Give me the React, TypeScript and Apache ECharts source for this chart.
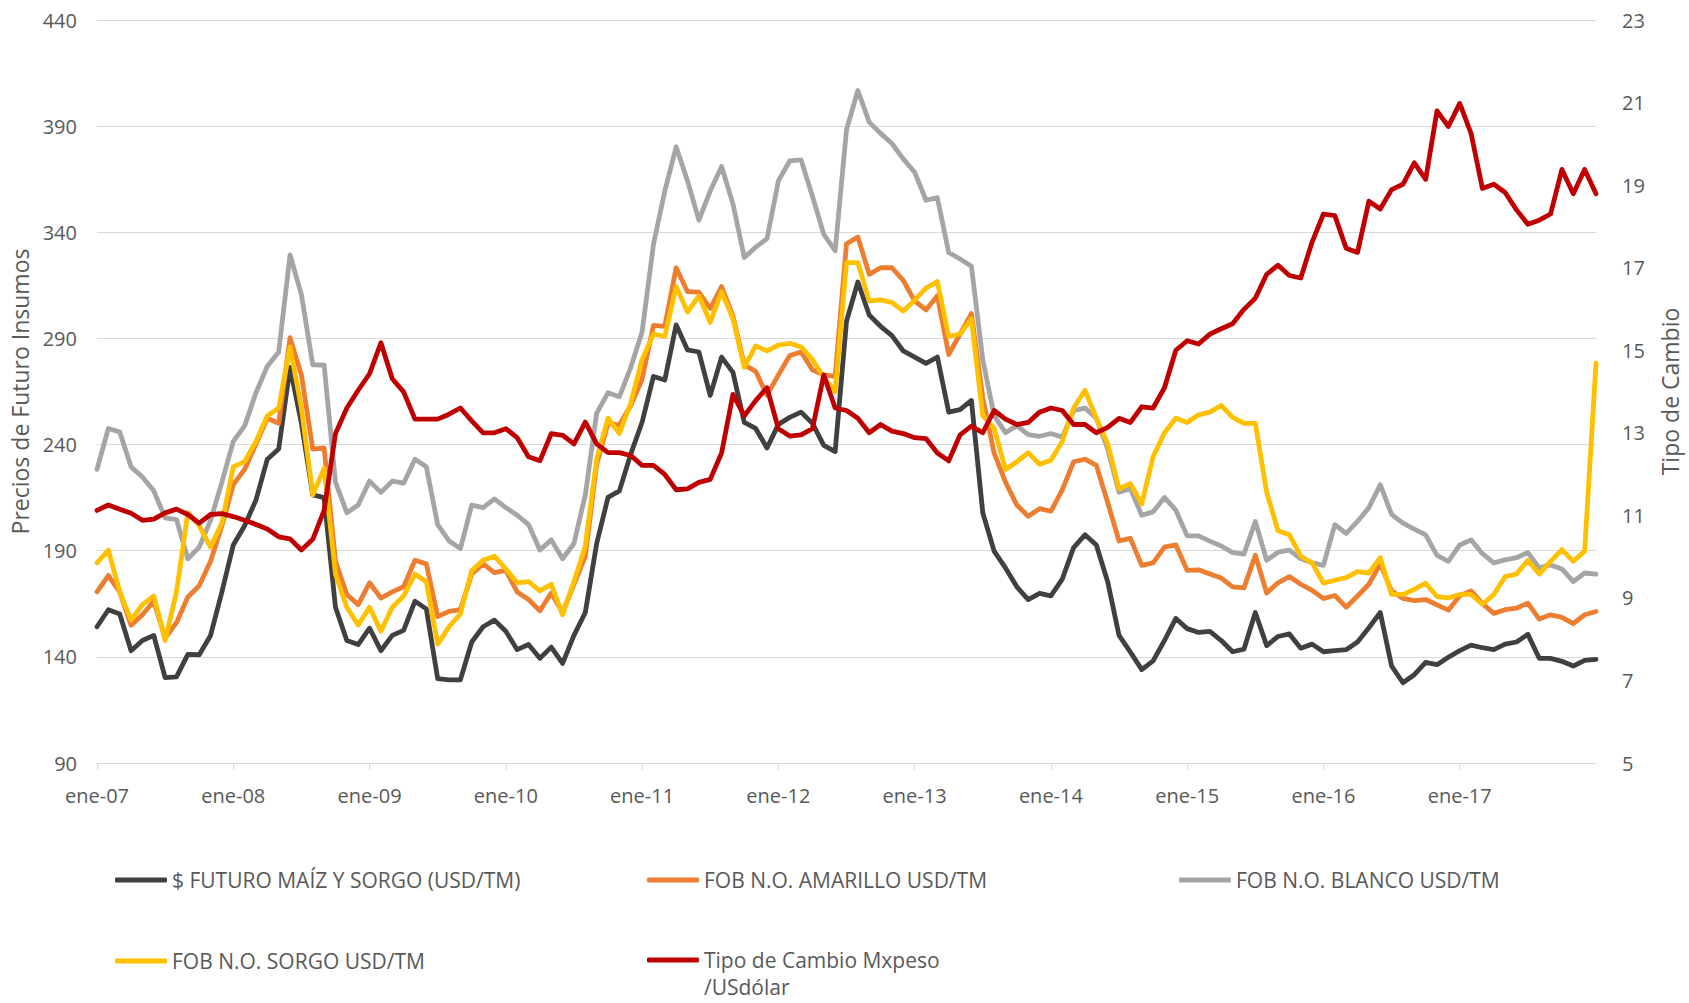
import React, { useEffect, useRef } from "react";
import * as echarts from "echarts";

const MONTHS = ["ene", "feb", "mar", "abr", "may", "jun", "jul", "ago", "sep", "oct", "nov", "dic"];
const YEARS = ["07", "08", "09", "10", "11", "12", "13", "14", "15", "16", "17", "18"];
const categories: string[] = [];
YEARS.forEach((y) => MONTHS.forEach((m) => categories.push(`${m}-${y}`)));
categories.length = 133;

const SERIES_NAMES = [
  "$ FUTURO MAÍZ Y SORGO (USD/TM)",
  "FOB N.O. AMARILLO USD/TM",
  "FOB N.O. BLANCO USD/TM",
  "FOB N.O. SORGO USD/TM",
  "Tipo de Cambio Mxpeso /USdólar",
];

const futuro = [
  154.2, 162.2, 160.2, 142.9, 147.7, 150.1, 130.2, 130.6, 141.2, 141.0, 150.1, 170.6,
  192.7, 201.8, 213.9, 233.1, 237.9, 276.4, 250.0, 216.3, 215.0, 163.4, 147.7, 145.8,
  153.5, 142.9, 150.1, 152.5, 166.2, 162.6, 129.7, 129.2, 129.2, 147.0, 154.2, 157.3,
  152.1, 143.4, 145.8, 139.3, 144.6, 136.9, 150.1, 160.9, 193.4, 215.1, 218.2, 235.5,
  250.5, 272.1, 270.4, 296.4, 284.6, 283.6, 263.2, 281.2, 274.0, 250.4, 247.6, 238.4,
  249.5, 252.8, 255.3, 250.0, 239.6, 236.7, 298.1, 316.6, 301.0, 295.7, 291.3, 284.1,
  281.2, 278.3, 281.2, 255.3, 256.5, 260.8, 207.9, 189.8, 181.9, 173.0, 167.0, 169.9,
  168.7, 176.6, 191.5, 197.5, 192.7, 175.4, 150.1, 142.2, 134.0, 138.1, 147.7, 158.1,
  153.3, 151.5, 152.0, 147.7, 142.4, 143.6, 160.9, 145.3, 149.6, 150.8, 144.1, 146.0,
  142.4, 142.9, 143.4, 147.0, 153.7, 160.9, 135.7, 127.8, 131.6, 137.4, 136.3, 139.8,
  142.9, 145.5, 144.3, 143.4, 146.0, 147.0, 150.6, 139.3, 139.3, 137.9, 135.7, 138.3,
  138.8,
];

const amarillo = [
  170.6, 178.3, 170.6, 154.9, 159.8, 166.2, 148.9, 156.1, 168.2, 173.5, 185.0, 201.8,
  221.1, 228.3, 240.3, 252.4, 250.0, 290.4, 272.8, 237.9, 238.4, 185.0, 169.4, 164.6,
  174.9, 167.7, 170.6, 173.0, 185.5, 183.8, 159.0, 161.4, 162.2, 179.0, 183.8, 179.7,
  180.7, 170.6, 167.0, 161.7, 170.1, 160.9, 174.2, 187.4, 230.7, 250.0, 249.2, 258.4,
  270.8, 296.1, 295.7, 323.3, 312.0, 311.8, 304.1, 314.4, 300.5, 277.6, 274.5, 263.2,
  272.8, 281.9, 283.6, 275.2, 272.8, 272.1, 334.6, 337.8, 320.2, 323.3, 323.3, 317.3,
  307.7, 303.4, 310.1, 282.4, 292.1, 301.7, 262.0, 236.0, 222.3, 211.5, 206.2, 209.8,
  208.6, 218.7, 231.9, 233.1, 230.2, 212.7, 194.6, 195.8, 183.1, 184.3, 191.7, 192.7,
  180.7, 181.0, 179.0, 177.1, 173.0, 172.5, 187.9, 170.1, 174.9, 177.8, 174.2, 171.3,
  167.5, 168.9, 163.4, 168.7, 174.2, 183.8, 171.1, 167.5, 166.5, 167.0, 164.5, 162.0,
  168.8, 171.1, 165.1, 160.5, 162.2, 162.9, 165.3, 157.8, 159.8, 158.6, 155.7, 159.8,
  161.4,
];

const blanco = [
  228.3, 247.6, 245.9, 229.5, 224.7, 218.2, 205.5, 204.7, 186.2, 191.7, 204.3, 222.3,
  241.5, 248.8, 264.4, 276.9, 283.6, 329.3, 310.6, 277.6, 277.4, 222.3, 207.9, 211.5,
  222.8, 217.5, 222.8, 221.8, 233.1, 229.5, 202.3, 194.6, 191.0, 211.5, 210.3, 214.4,
  210.3, 206.7, 202.3, 190.3, 195.1, 186.2, 193.4, 216.3, 254.8, 264.4, 262.5, 276.4,
  293.0, 334.2, 359.4, 380.3, 364.2, 345.7, 359.4, 371.0, 353.4, 328.1, 333.0, 337.0,
  364.2, 373.6, 374.1, 357.0, 339.0, 331.3, 388.3, 406.8, 391.9, 386.6, 381.8, 374.6,
  368.3, 355.1, 356.3, 330.5, 327.4, 324.0, 280.0, 253.6, 245.6, 248.8, 244.7, 243.9,
  245.2, 243.5, 256.0, 257.2, 252.4, 237.9, 217.5, 219.2, 206.7, 208.3, 215.1, 209.1,
  197.0, 197.0, 194.5, 192.2, 189.1, 188.4, 203.8, 185.5, 189.3, 190.3, 186.2, 184.3,
  183.1, 202.3, 198.2, 203.8, 210.3, 221.1, 207.1, 203.0, 200.2, 197.5, 187.8, 185.0,
  192.7, 195.1, 188.6, 184.3, 185.7, 186.7, 189.1, 181.9, 183.3, 181.4, 175.4, 179.5,
  179.0,
];

const sorgo = [
  184.3, 190.3, 170.6, 157.3, 164.6, 168.7, 147.7, 170.6, 207.9, 201.8, 191.7, 203.0,
  229.5, 232.0, 241.5, 253.6, 257.2, 286.0, 257.2, 216.3, 228.8, 179.0, 163.4, 155.0,
  163.4, 152.1, 163.4, 168.7, 179.0, 175.4, 146.0, 154.2, 160.2, 180.7, 185.5, 187.4,
  181.4, 174.9, 175.4, 171.1, 174.2, 159.8, 175.4, 192.2, 233.1, 252.4, 245.2, 259.6,
  280.0, 292.1, 290.9, 314.4, 302.4, 310.1, 297.6, 312.0, 299.3, 276.4, 286.5, 284.1,
  286.8, 287.7, 286.0, 280.0, 271.6, 264.9, 325.7, 325.7, 307.7, 308.2, 307.0, 302.9,
  308.0, 313.7, 316.8, 290.9, 292.1, 299.3, 253.6, 247.6, 228.3, 231.9, 236.2, 230.7,
  232.6, 241.5, 257.2, 265.6, 252.4, 240.3, 219.2, 221.6, 212.0, 234.3, 245.6, 252.4,
  250.4, 254.0, 255.3, 258.4, 252.8, 250.0, 250.0, 217.5, 199.4, 197.5, 187.4, 184.3,
  174.7, 176.1, 177.3, 180.2, 179.5, 186.7, 169.4, 169.4, 171.8, 174.7, 168.4, 167.8,
  169.4, 169.4, 164.8, 169.4, 177.8, 179.0, 185.5, 179.0, 185.0, 190.5, 185.0, 189.8,
  278.3,
];

const tipoCambio = [
  11.12, 11.25, 11.15, 11.05, 10.88, 10.91, 11.06, 11.15, 11.02, 10.81, 11.02, 11.04,
  10.97, 10.88, 10.78, 10.67, 10.48, 10.43, 10.16, 10.42, 11.12, 12.98, 13.6, 14.03,
  14.43, 15.18, 14.31, 13.99, 13.33, 13.33, 13.33, 13.45, 13.6, 13.29, 13.0, 13.0,
  13.1, 12.88, 12.42, 12.32, 12.98, 12.94, 12.73, 13.26, 12.73, 12.52, 12.52, 12.45,
  12.21, 12.21, 11.99, 11.62, 11.64, 11.8, 11.87, 12.51, 13.93, 13.41, 13.78, 14.09,
  13.1, 12.92, 12.95, 13.1, 14.4, 13.6, 13.54, 13.35, 13.0, 13.2, 13.04, 12.98,
  12.88, 12.86, 12.51, 12.32, 12.95, 13.16, 13.0, 13.54, 13.33, 13.2, 13.25, 13.5,
  13.6, 13.54, 13.2, 13.2, 13.0, 13.13, 13.35, 13.25, 13.63, 13.6, 14.09, 15.0,
  15.23, 15.15, 15.39, 15.52, 15.64, 15.99, 16.26, 16.84, 17.06, 16.81, 16.75, 17.62,
  18.3, 18.26, 17.47, 17.37, 18.61, 18.42, 18.89, 19.02, 19.54, 19.14, 20.8, 20.42,
  20.98, 20.25, 18.92, 19.02, 18.82, 18.4, 18.05, 18.15, 18.3, 19.38, 18.79, 19.38,
  18.79,
];

const COLORS = ["#404040", "#ED7D31", "#A5A5A5", "#FFC000", "#C00000"];
const FONT = "'Open Sans', 'Noto Sans', sans-serif";
const TEXT_COLOR = "#595959";
const GRID_COLOR = "#D9D9D9";

export default function App() {
  const ref = useRef<HTMLDivElement>(null);

  useEffect(() => {
    if (!ref.current) return;
    const chart = echarts.init(ref.current, undefined, { renderer: "svg" });

    const values = [futuro, amarillo, blanco, sorgo, tipoCambio];
    const legendPos = [
      { left: 115, top: 869 },
      { left: 647, top: 869 },
      { left: 1179, top: 869 },
      { left: 115, top: 950 },
      { left: 647, top: 949 },
    ];

    const showYear = (index: number) => index % 12 === 0 && index < 132;

    chart.setOption({
      animation: false,
      backgroundColor: "#ffffff",
      textStyle: { fontFamily: FONT },
      grid: { left: 97, right: 86, top: 20, bottom: 240, containLabel: false },
      legend: SERIES_NAMES.map((name, i) => ({
        data: [name],
        left: legendPos[i].left,
        top: legendPos[i].top,
        padding: 0,
        icon: "roundRect",
        itemWidth: 52,
        itemHeight: 5,
        selectedMode: false,
        formatter: (n: string) => (n === SERIES_NAMES[4] ? "Tipo de Cambio Mxpeso" : n),
        textStyle: { fontFamily: FONT, fontSize: 21, color: TEXT_COLOR, lineHeight: 22 },
      })),
      graphic: [
        {
          type: "text",
          x: 704,
          y: 987,
          style: {
            text: "/USdólar",
            fontFamily: FONT,
            fontSize: 21,
            lineHeight: 20,
            fill: TEXT_COLOR,
            verticalAlign: "middle",
            align: "left",
          },
        },
      ],
      xAxis: {
        type: "category",
        data: categories,
        boundaryGap: false,
        axisLine: { lineStyle: { color: GRID_COLOR, width: 1 } },
        axisTick: { show: true, interval: showYear, length: 7, lineStyle: { color: GRID_COLOR } },
        axisLabel: {
          interval: showYear,
          margin: 22,
          fontSize: 20,
          color: TEXT_COLOR,
          fontFamily: FONT,
        },
        splitLine: { show: false },
      },
      yAxis: [
        {
          type: "value",
          min: 90,
          max: 440,
          interval: 50,
          name: "Precios de Futuro Insumos",
          nameLocation: "middle",
          nameGap: 62,
          nameTextStyle: { fontSize: 23, color: TEXT_COLOR, fontFamily: FONT },
          axisLine: { show: false },
          axisTick: { show: false },
          axisLabel: { margin: 20, fontSize: 20, color: TEXT_COLOR, fontFamily: FONT },
          splitLine: { lineStyle: { color: GRID_COLOR, width: 1 } },
        },
        {
          type: "value",
          position: "right",
          min: 5,
          max: 23,
          interval: 2,
          name: "Tipo de Cambio",
          nameLocation: "middle",
          nameGap: 62,
          nameTextStyle: { fontSize: 23, color: TEXT_COLOR, fontFamily: FONT },
          axisLine: { show: false },
          axisTick: { show: false },
          axisLabel: { margin: 26, fontSize: 20, color: TEXT_COLOR, fontFamily: FONT },
          splitLine: { show: false },
        },
      ],
      series: SERIES_NAMES.map((name, i) => ({
        name,
        type: "line",
        yAxisIndex: i === 4 ? 1 : 0,
        data: values[i],
        showSymbol: false,
        symbol: "none",
        color: COLORS[i],
        lineStyle: { color: COLORS[i], width: 4.8, cap: "round", join: "round" },
        z: 2 + i,
      })),
    });

    return () => chart.dispose();
  }, []);

  return (
    <div
      ref={ref}
      style={{ position: "absolute", left: 0, top: 0, width: 1689, height: 1003, background: "#fff" }}
    />
  );
}
